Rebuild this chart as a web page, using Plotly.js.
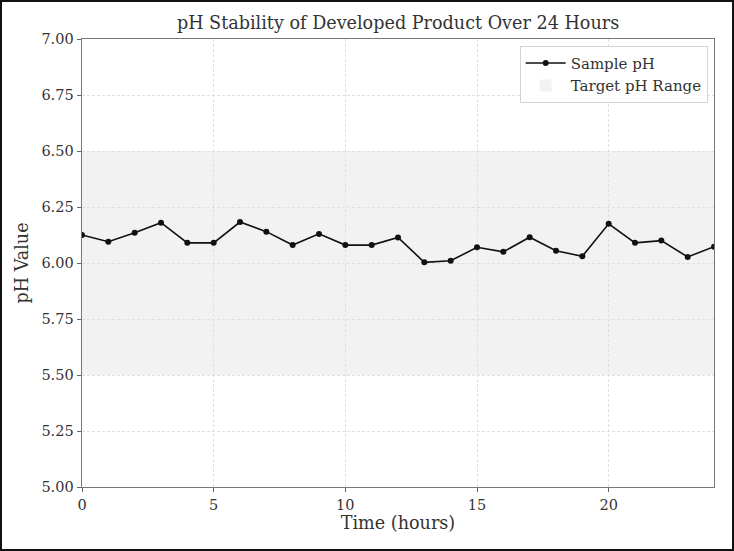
<!DOCTYPE html>
<html>
<head>
<meta charset="utf-8">
<script src="https://cdn.plot.ly/plotly-3.0.1.min.js"></script>
<style>
  html, body { margin: 0; padding: 0; background: #fff; }
  #plot { width: 730px; height: 547px; border: 2px solid #111; }
</style>
</head>
<body>
<div id="plot"></div>
<script>
const hours = [0, 1, 2, 3, 4, 5, 6, 7, 8, 9, 10, 11, 12, 13, 14, 15, 16, 17, 18, 19, 20, 21, 22, 23, 24];
const samplePH = [6.125, 6.095, 6.135, 6.18, 6.09, 6.09, 6.183, 6.14, 6.08, 6.13, 6.08, 6.08, 6.114,
  6.003, 6.01, 6.07, 6.05, 6.115, 6.055, 6.03, 6.175, 6.09, 6.10, 6.027, 6.073];
const targetLow = 5.5;
const targetHigh = 6.5;

const serif = 'DejaVu Serif, serif';

const trace = {
  x: hours,
  y: samplePH,
  name: 'Sample pH',
  mode: 'lines+markers',
  type: 'scatter',
  line: { color: '#111', width: 1.6 },
  marker: { color: '#111', size: 6 },
};

const axisCommon = {
  ticks: 'outside', ticklen: 4, tickcolor: '#666', tickwidth: 1,
  showline: true, linecolor: '#777', linewidth: 1.4, mirror: true,
  showgrid: true, gridcolor: '#e0e0e0', griddash: '3px,2px', gridwidth: 1,
  zeroline: false,
  tickfont: { family: serif, size: 14.5, color: '#333' },
};

const layout = {
  width: 730,
  height: 547,
  paper_bgcolor: '#fff',
  plot_bgcolor: '#fff',
  font: { family: serif, color: '#333', size: 14 },
  title: {
    text: 'pH Stability of Developed Product Over 24 Hours',
    font: { family: serif, size: 17.6, color: '#333' },
    x: 0.5425, xanchor: 'center',
    y: 0.962, yanchor: 'middle',
  },
  margin: { l: 80, r: 18, t: 37, b: 62 },
  xaxis: Object.assign({}, axisCommon, {
    range: [hours[0], hours[hours.length - 1]],
    tickvals: [0, 5, 10, 15, 20],
    title: { text: 'Time (hours)', font: { family: serif, size: 17.6, color: '#333' }, standoff: 5 },
  }),
  yaxis: Object.assign({}, axisCommon, {
    range: [5, 7],
    dtick: 0.25,
    tickformat: '.2f',
    title: { text: 'pH Value', font: { family: serif, size: 17.6, color: '#333' }, standoff: 8 },
  }),
  shapes: [{
    type: 'rect',
    xref: 'x', yref: 'y',
    x0: hours[0], x1: hours[hours.length - 1],
    y0: targetLow, y1: targetHigh,
    fillcolor: '#f2f2f2',
    line: { width: 0 },
    layer: 'below',
    name: 'Target pH Range',
    showlegend: true,
  }],
  legend: {
    x: 0.99, xanchor: 'right',
    y: 0.985, yanchor: 'top',
    bgcolor: 'rgba(255,255,255,0.9)',
    bordercolor: '#d4d4d4', borderwidth: 1,
    font: { family: serif, size: 15, color: '#333' },
    itemwidth: 40,
    tracegroupgap: 0,
  },
  showlegend: true,
};

const config = { displayModeBar: false, staticPlot: true };

Plotly.newPlot('plot', [trace], layout, config);
</script>
</body>
</html>
